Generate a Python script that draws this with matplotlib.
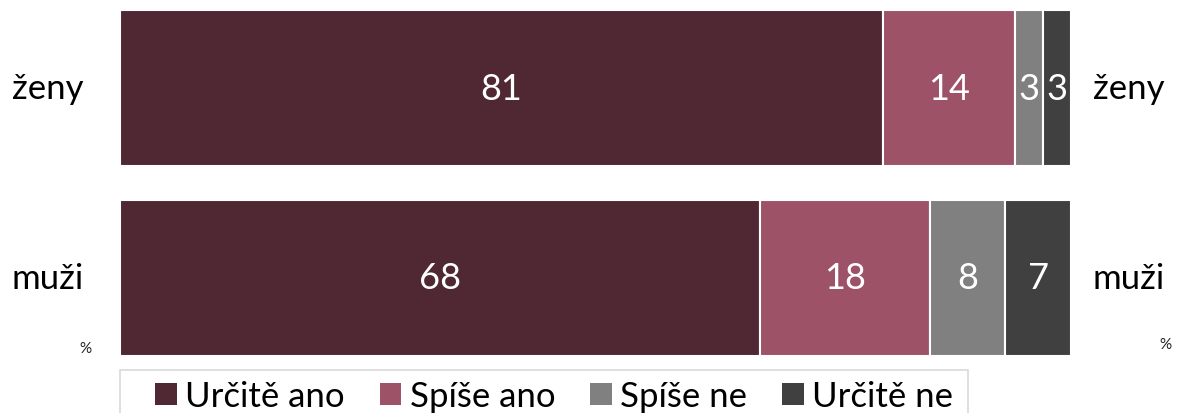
import matplotlib.pyplot as plt
import numpy as np
from matplotlib.patches import Patch, Rectangle

plt.rcParams["font.family"] = ["Lato", "DejaVu Sans"]

groups = ["muži", "ženy"]
categories = ["Určitě ano", "Spíše ano", "Spíše ne", "Určitě ne"]
values = {
    "ženy": [81, 14, 3, 3],
    "muži": [68, 18, 8, 7],
}
colors = ["#4F2833", "#9E5267", "#808080", "#404040"]

W, H = 1178, 414
fig = plt.figure(figsize=(W / 100, H / 100), dpi=100)
ax = fig.add_axes([120 / W, 1 - 357 / H, 951 / W, 346 / H])

h = 157 / 191
y = np.arange(len(groups))
for i, g in enumerate(groups):
    vals = np.array(values[g], dtype=float)
    shares = vals / vals.sum() * 100
    left = 0
    for j, (s, v) in enumerate(zip(shares, vals)):
        ax.barh(y[i], s, left=left, height=h, color=colors[j],
                edgecolor="white", linewidth=1.5)
        ax.text(left + s / 2, y[i], f"{int(v)}", ha="center", va="center",
                color="white", fontsize=26)
        left += s

ax.set_xlim(0, 100)
ax.set_ylim(-h / 2, len(groups) - 1 + h / 2)
ax.axis("off")

# category names on both sides
trans = ax.get_yaxis_transform()
for i, g in enumerate(groups):
    ax.text((48 - 120) / 951, y[i], g, ha="center", va="center",
            fontsize=25, transform=trans)
    ax.text((1129 - 120) / 951, y[i], g, ha="center", va="center",
            fontsize=25, transform=trans)

fig.text(85 / W, 1 - 349 / H, "%", ha="center", va="center",
         fontsize=11, color="#202020")
fig.text(1165 / W, 1 - 345 / H, "%", ha="center", va="center",
         fontsize=11, color="#202020")

# legend frame runs past the bottom edge, like the original
fig.add_artist(Rectangle((120 / W, -0.05), 848 / W, 1 - 371 / H + 0.05,
                         transform=fig.transFigure, facecolor="none",
                         edgecolor="#D9D9D9", linewidth=1.2))
handles = [Patch(facecolor=c, edgecolor="none") for c in colors]
fig.legend(handles, categories, loc="upper left",
           bbox_to_anchor=(155 / W, 1 - 381 / H), ncol=4,
           fontsize=25, frameon=False,
           handlelength=0.62, handleheight=0.62, handletextpad=0.25,
           columnspacing=1.0, borderpad=0, borderaxespad=0)

fig.savefig("out.png", dpi=100)
